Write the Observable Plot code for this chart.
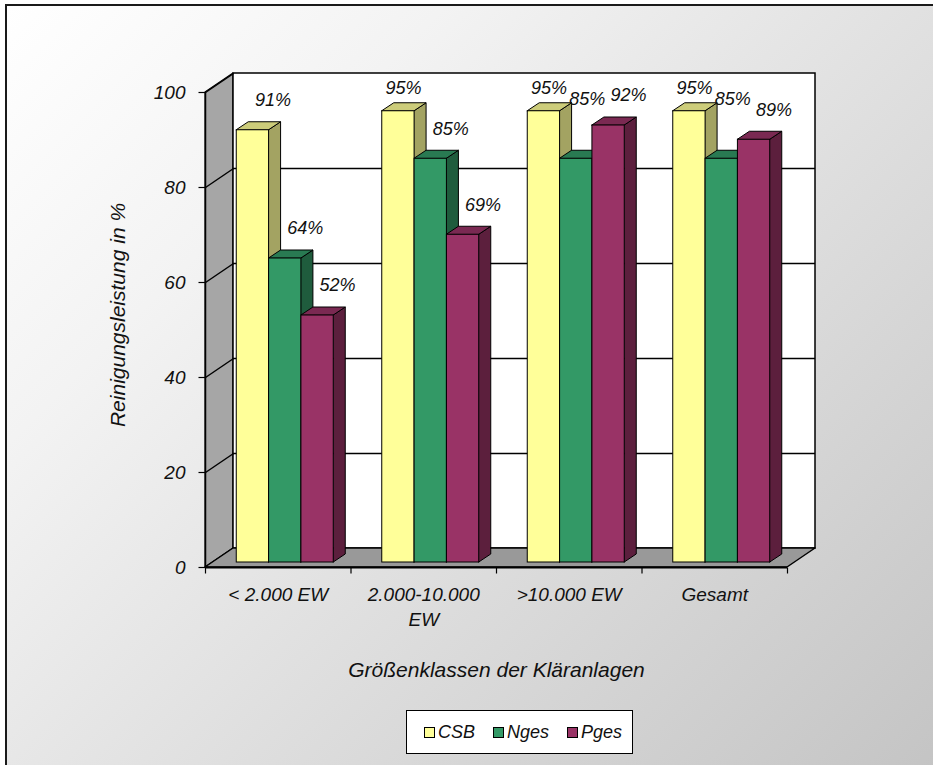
<!DOCTYPE html>
<html>
<head>
<meta charset="utf-8">
<script src="https://cdn.jsdelivr.net/npm/d3@7"></script>
<script src="https://cdn.jsdelivr.net/npm/@observablehq/plot@0.6"></script>
<style>
  html, body { margin: 0; padding: 0; width: 933px; height: 765px; overflow: hidden; background: #fff;
    font-family: "Liberation Sans", Arial, sans-serif; }
  #frame { position: absolute; left: 5px; top: 4px; width: 960px; height: 790px;
    border: 2px solid #1a1a1a;
    background: linear-gradient(135deg, #ffffff 0%, #f3f3f3 25%, #dcdcdc 60%, #c2c2c2 100%); }
  #chart { position: absolute; left: 0; top: 0; }
  #legend { position: absolute; left: 406px; top: 710px; width: 208px; height: 42px;
    border: 1px solid #000; background: #fff; display: flex; align-items: center;
    padding-left: 17px; box-sizing: content-box; gap: 18px; }
  #legend .item { display: flex; align-items: center; gap: 3px; font-size: 18px; font-style: italic; color: #111; }
  #legend .sw { width: 9px; height: 9px; border: 1px solid #000; }
</style>
</head>
<body>
<div id="frame"></div>
<div id="chart"></div>
<div id="legend"></div>
<script>
// ---- data ----
const categories = ["< 2.000 EW", "2.000-10.000\nEW", ">10.000 EW", "Gesamt"];
const seriesNames = ["CSB", "Nges", "Pges"];
const csbValues = [91, 95, 95, 95];
const ngesValues = [64, 85, 85, 85];
const pgesValues = [52, 69, 92, 89];
const yTicks = [0, 20, 40, 60, 80, 100];
const xTitle = "Größenklassen der Kläranlagen";
const yTitle = "Reinigungsleistung in %";

// ---- style ----
const frontColors = ["#ffff99", "#339966", "#993366"];
const topColors = ["#cccc7a", "#297a52", "#7a2952"];
const sideColors = ["#a3a362", "#1f5c3d", "#5c1f3d"];

const W = 933, H = 700, mL = 205, mR = 146, mT = 92, mB = 133;
const kx = (W - mL - mR) / categories.length; // px per category
const ky = (H - mT - mB) / 100;               // px per percent
const wallDX = 28, wallDY = 19;   // depth of walls (px)
const barOX = 7, barOY = 5;       // bar plane offset (px)
const barDX = 12, barDY = 8;      // bar depth (px)
const gapFrac = 1 / 3, bw = (1 - gapFrac) / 3;

const seriesValues = [csbValues, ngesValues, pgesValues];
const bars = seriesValues.map((vals, s) => vals.map((v, i) => {
  const x1 = i + gapFrac / 2 + s * bw;
  return {s, i, v, x1, x2: x1 + bw, key: s + "-" + i, label: v + "%"};
}));

// label placement rule (like the spreadsheet's): above the bar, nudged right;
// kept inside the plot top; lifted above the group when the right neighbour is taller
const labelTopLimit = 101;
bars.forEach(rows => rows.forEach(d => {
  const groupMax = d3.max(seriesValues, vals => vals[d.i]);
  const next = seriesValues[d.s + 1] ? seriesValues[d.s + 1][d.i] : -Infinity;
  let ly = d.v + (barOY + 30) / ky, ldx = barOX + 20;
  if (next > d.v && d.s > 0) { ly = groupMax + (barOY + 12) / ky; ldx = barOX + 11; }
  if (ly > labelTopLimit) { ly = labelTopLimit; ldx = barOX + 5; }
  d.ly = ly; d.ldx = ldx;
}));

const wx = wallDX / kx, wy = wallDY / ky, bx = barDX / kx, by = barDY / ky;

const marks = [];
// left wall
marks.push(Plot.areaY([{x: 0, y1: 0, y2: 100}, {x: wx, y1: wy, y2: 100 + wy}],
  {x: "x", y1: "y1", y2: "y2", fill: "#a6a6a6", stroke: "#000", strokeWidth: 1.2}));
// back wall
marks.push(Plot.rect([0], {x1: () => 0, x2: () => categories.length, y1: () => 0, y2: () => 100,
  dx: wallDX, dy: -wallDY, fill: "#fff", stroke: "#000", strokeWidth: 1.5}));
// gridlines on back wall
marks.push(Plot.ruleY(yTicks.filter(t => t > 0 && t < 100), {y: d => d, x1: () => 0, x2: () => categories.length,
  dx: wallDX, dy: -wallDY, stroke: "#000", strokeWidth: 1.5}));
// gridlines on left wall
marks.push(Plot.link(yTicks, {x1: () => 0, y1: d => d, x2: () => wx, y2: d => d + wy, stroke: "#000", strokeWidth: 1.5}));
// floor
marks.push(Plot.areaX([{y: 0, x1: 0, x2: categories.length}, {y: wy, x1: wx, x2: categories.length + wx}],
  {y: "y", x1: "x1", x2: "x2", fill: "#999999", stroke: "#000", strokeWidth: 1.5}));

// bar side faces
bars.forEach((rows, s) => {
  const pts = rows.flatMap(d => [
    {key: d.key, x: d.x2, y1: 0, y2: d.v},
    {key: d.key, x: d.x2 + bx, y1: by, y2: d.v + by}
  ]);
  marks.push(Plot.areaY(pts, {x: "x", y1: "y1", y2: "y2", z: "key", fill: sideColors[s],
    stroke: "#000", strokeWidth: 1, dx: barOX, dy: -barOY}));
});
// bar top faces
bars.forEach((rows, s) => {
  const pts = rows.flatMap(d => [
    {key: d.key, y: d.v, x1: d.x1, x2: d.x2},
    {key: d.key, y: d.v + by, x1: d.x1 + bx, x2: d.x2 + bx}
  ]);
  marks.push(Plot.areaX(pts, {y: "y", x1: "x1", x2: "x2", z: "key", fill: topColors[s],
    stroke: "#000", strokeWidth: 1, dx: barOX, dy: -barOY}));
});
// bar front faces
bars.forEach((rows, s) => {
  marks.push(Plot.rect(rows, {x1: "x1", x2: "x2", y1: () => 0, y2: "v", fill: frontColors[s],
    stroke: "#000", strokeWidth: 1, dx: barOX, dy: -barOY}));
});
// value labels
bars.forEach((rows) => {
  rows.forEach(d => {
    marks.push(Plot.text([d], {x: d => (d.x1 + d.x2) / 2, y: "ly", text: "label", dx: d.ldx,
      fontSize: 18, fontStyle: "italic", fill: "#111"}));
  });
});

// y axis
marks.push(Plot.ruleX([0], {x: () => 0, y1: () => 0, y2: () => 100, stroke: "#000", strokeWidth: 1.5}));
marks.push(Plot.link(yTicks, {x1: () => -7 / kx, x2: () => 0, y1: d => d, y2: d => d, stroke: "#000", strokeWidth: 1.2}));
marks.push(Plot.text(yTicks, {x: () => 0, y: d => d, text: d => String(d), dx: -20, textAnchor: "end",
  fontSize: 19, fontStyle: "italic", fill: "#111"}));
// x axis
marks.push(Plot.ruleY([0], {y: () => 0, x1: () => 0, x2: () => categories.length, stroke: "#000", strokeWidth: 2}));
marks.push(Plot.link(d3.range(categories.length + 1), {x1: d => d, x2: d => d, y1: () => 0, y2: () => -6 / ky,
  stroke: "#000", strokeWidth: 1.2}));
marks.push(Plot.text(categories, {x: (d, i) => i + 0.5, y: () => 0, text: d => d, dy: 16, lineAnchor: "top",
  lineHeight: 1.32, fontSize: 19, fontStyle: "italic", fill: "#111"}));
// titles
marks.push(Plot.text([xTitle], {frameAnchor: "bottom", text: d => d, dy: 103, textAnchor: "middle", lineAnchor: "middle",
  fontSize: 21, fontStyle: "italic", fill: "#111"}));
marks.push(Plot.text([yTitle], {frameAnchor: "left", text: d => d, dx: -87, dy: -15, rotate: -90,
  textAnchor: "middle", lineAnchor: "middle", fontSize: 21, fontStyle: "italic", fill: "#111"}));

const chart = Plot.plot({
  width: W, height: H,
  marginLeft: mL, marginRight: mR, marginTop: mT, marginBottom: mB,
  x: {domain: [0, categories.length], axis: null},
  y: {domain: [0, 100], axis: null},
  style: {background: "transparent", overflow: "visible", fontFamily: "'Liberation Sans', Arial, sans-serif"},
  marks
});
document.getElementById("chart").appendChild(chart);

// legend
const legend = document.getElementById("legend");
seriesNames.forEach((name, s) => {
  const item = document.createElement("div");
  item.className = "item";
  const sw = document.createElement("span");
  sw.className = "sw";
  sw.style.background = frontColors[s];
  const t = document.createElement("span");
  t.textContent = name;
  item.appendChild(sw); item.appendChild(t);
  legend.appendChild(item);
});
</script>
</body>
</html>
